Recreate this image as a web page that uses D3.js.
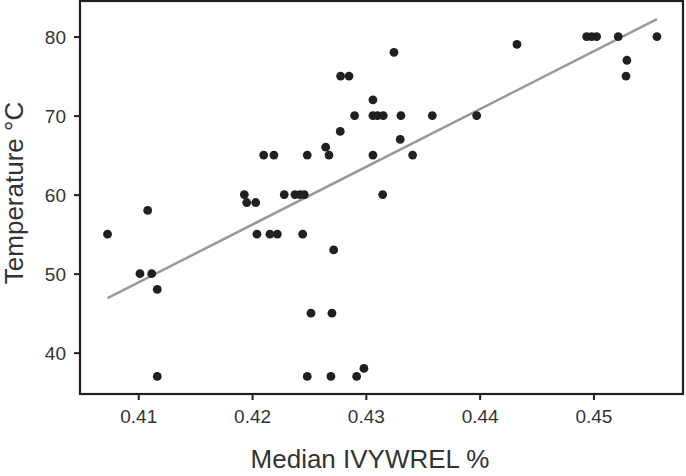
<!DOCTYPE html>
<html><head><meta charset="utf-8">
<script src="https://cdn.jsdelivr.net/npm/d3@7"></script>
<style>body{margin:0;background:#fff}svg{display:block}</style>
</head><body>
<svg id="c" width="686" height="476"></svg>
<script>
const xValues = [0.4073,0.41083,0.41932,0.41953,0.41015,0.41118,0.41167,0.41167,
  0.43247,0.42778,0.42852,0.43062,0.42901,0.43062,0.43103,0.43153,0.43308,0.43584,
  0.42775,0.43302,0.42647,0.42102,0.42192,0.42485,0.42676,0.43062,0.43411,
  0.42032,0.42283,0.42377,0.42421,0.42459,0.43148,0.42043,0.42157,0.42222,0.42445,
  0.42717,0.42518,0.42702,0.42485,0.42693,0.42919,0.42983,
  0.44328,0.4494,0.44984,0.45028,0.45218,0.45558,0.45294,0.45286,0.43974];
const yValues = [55,58,60,59,50,50,48,37,
  78,75,75,72,70,70,70,70,70,70,
  68,67,66,65,65,65,65,65,65,
  59,60,60,60,60,60,55,55,55,55,
  53,45,45,37,37,37,38,
  79,80,80,80,80,80,77,75,70];
const fitX = [0.4073, 0.45558];
const fitY = [46.9, 82.2];
const xTicks = [0.41,0.42,0.43,0.44,0.45];
const yTicks = [40,50,60,70,80];
const xTitle = "Median IVYWREL %";
const yTitle = "Temperature °C";

const L=80, R=683, T=1, B=394;
const svg = d3.select("#c");
const x = d3.scaleLinear().domain([0.40488,0.45787]).range([L,R]);
const y = d3.scaleLinear().domain([34.77,84.5]).range([B,T]);
const ink = "#231f20";
const font = "'Liberation Sans', Arial, Helvetica, sans-serif";

svg.append("rect").attr("x",L).attr("y",T).attr("width",R-L).attr("height",B-T)
  .attr("fill","none").attr("stroke",ink).attr("stroke-width",2.2);

const xa = svg.append("g").attr("transform",`translate(0,${B})`)
  .call(d3.axisBottom(x).tickValues(xTicks).tickFormat(d3.format(".2f")).tickSize(6).tickPadding(10));
const ya = svg.append("g").attr("transform",`translate(${L},0)`)
  .call(d3.axisLeft(y).tickValues(yTicks).tickSize(6).tickPadding(8));
[xa,ya].forEach(a=>{
  a.select(".domain").remove();
  a.selectAll(".tick line").attr("stroke",ink).attr("stroke-width",2);
  a.selectAll(".tick text").attr("fill","#333").style("font-family",font).style("font-size","19px");
});
xa.selectAll(".tick text").attr("dy","0.71em");
ya.selectAll(".tick text").attr("dy","0.35em");

svg.append("line").attr("x1",x(fitX[0])).attr("y1",y(fitY[0])).attr("x2",x(fitX[1])).attr("y2",y(fitY[1]))
  .attr("stroke","#999").attr("stroke-width",2.5);

svg.append("g").selectAll("circle").data(xValues.map((v,i)=>[v,yValues[i]])).join("circle")
  .attr("cx",d=>x(d[0])).attr("cy",d=>y(d[1])).attr("r",4.4).attr("fill",ink);

svg.append("text").attr("x",370).attr("y",468).attr("text-anchor","middle")
  .style("font-family",font).style("font-size","26px").attr("fill","#333").text(xTitle);
svg.append("text").attr("transform","translate(23,193) rotate(-90)").attr("text-anchor","middle")
  .style("font-family",font).style("font-size","26px").attr("fill","#333").text(yTitle);
</script>
</body></html>
